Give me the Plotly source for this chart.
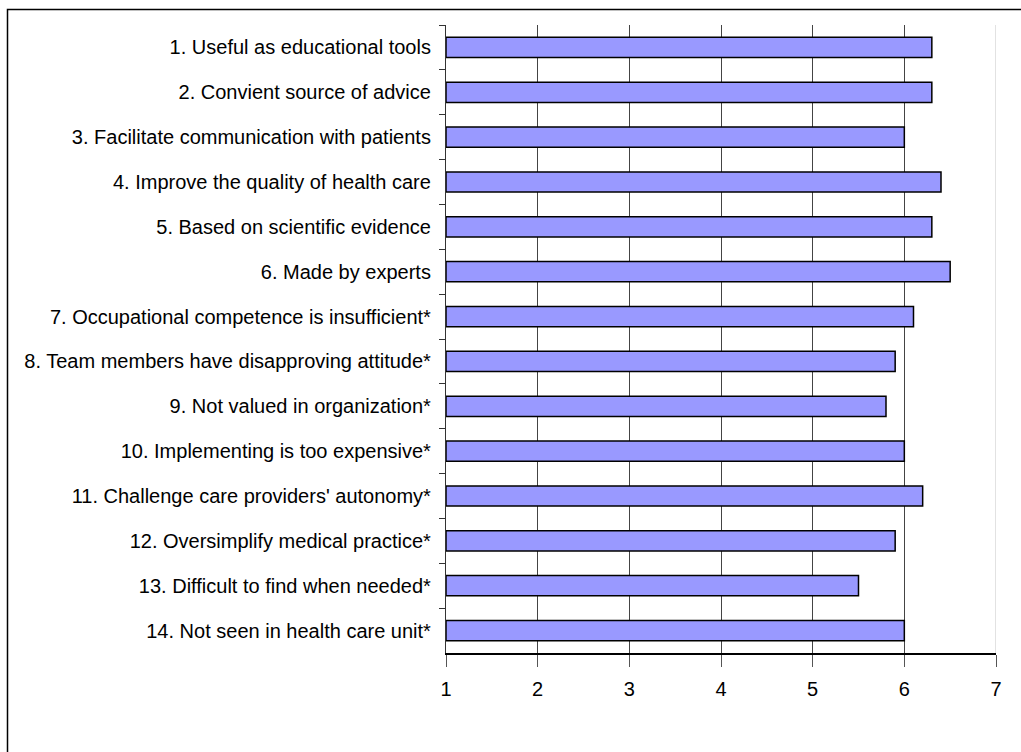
import plotly.graph_objects as go

categories = [
    "1. Useful as educational tools",
    "2. Convient source of advice",
    "3. Facilitate communication with patients",
    "4. Improve the quality of health care",
    "5. Based on scientific evidence",
    "6. Made by experts",
    "7. Occupational competence is insufficient*",
    "8. Team members have disapproving attitude*",
    "9. Not valued in organization*",
    "10. Implementing is too expensive*",
    "11. Challenge care providers' autonomy*",
    "12. Oversimplify medical practice*",
    "13. Difficult to find when needed*",
    "14. Not seen in health care unit*",
]
values = [6.3, 6.3, 6.0, 6.4, 6.3, 6.5, 6.1, 5.9, 5.8, 6.0, 6.2, 5.9, 5.5, 6.0]
x_ticks = [1, 2, 3, 4, 5, 6, 7]
X_MIN, X_MAX = 1, 7

FONT = "Liberation Sans, Arial, sans-serif"

fig = go.Figure()
fig.add_trace(go.Bar(
    y=categories,
    x=[v - X_MIN for v in values],
    base=X_MIN,
    orientation="h",
    marker=dict(color="#9999FF", line=dict(color="#000000", width=1.5)),
    hoverinfo="skip",
))

W, H = 1021, 752
ml, mr, mt, mb = 446, 25, 25, 99
pw = W - ml - mr
ph = H - mt - mb

fig.update_layout(
    width=W, height=H,
    margin=dict(l=ml, r=mr, t=mt, b=mb, pad=0),
    paper_bgcolor="white", plot_bgcolor="white",
    showlegend=False,
    bargap=0.55,
    font=dict(family=FONT, size=20, color="black"),
    xaxis=dict(
        range=[X_MIN, X_MAX], tickvals=x_ticks, ticktext=[str(t) for t in x_ticks],
        showgrid=True, gridcolor="#444444", gridwidth=1,
        showline=True, linecolor="black", linewidth=1.5,
        ticks="outside", ticklen=12, tickcolor="#555555", tickwidth=1,
        ticklabelstandoff=5,
        zeroline=False, fixedrange=True,
    ),
    yaxis=dict(
        categoryorder="array", categoryarray=categories, autorange="reversed",
        showline=True, linecolor="#333333", linewidth=1.2,
        ticks="outside", tickson="boundaries", ticklen=6, tickcolor="#333333",
        ticklabelstandoff=10,
        showgrid=False, zeroline=False, fixedrange=True,
    ),
    shapes=[
        # light grey right boundary line at the axis maximum
        dict(type="line", xref="x", yref="paper", x0=X_MAX, x1=X_MAX, y0=0, y1=1,
             line=dict(color="#D9D9D9", width=1.5), layer="above"),
        # outer chart frame (extends beyond the right and bottom edges)
        dict(type="rect", xref="paper", yref="paper",
             x0=(7.5 - ml) / pw, x1=(W + 20 - ml) / pw,
             y0=-(H + 20 - mt - ph) / ph, y1=1 + (mt - 9.5) / ph,
             line=dict(color="black", width=1.5), fillcolor="rgba(0,0,0,0)", layer="above"),
    ],
)

fig.write_html("out.html")
